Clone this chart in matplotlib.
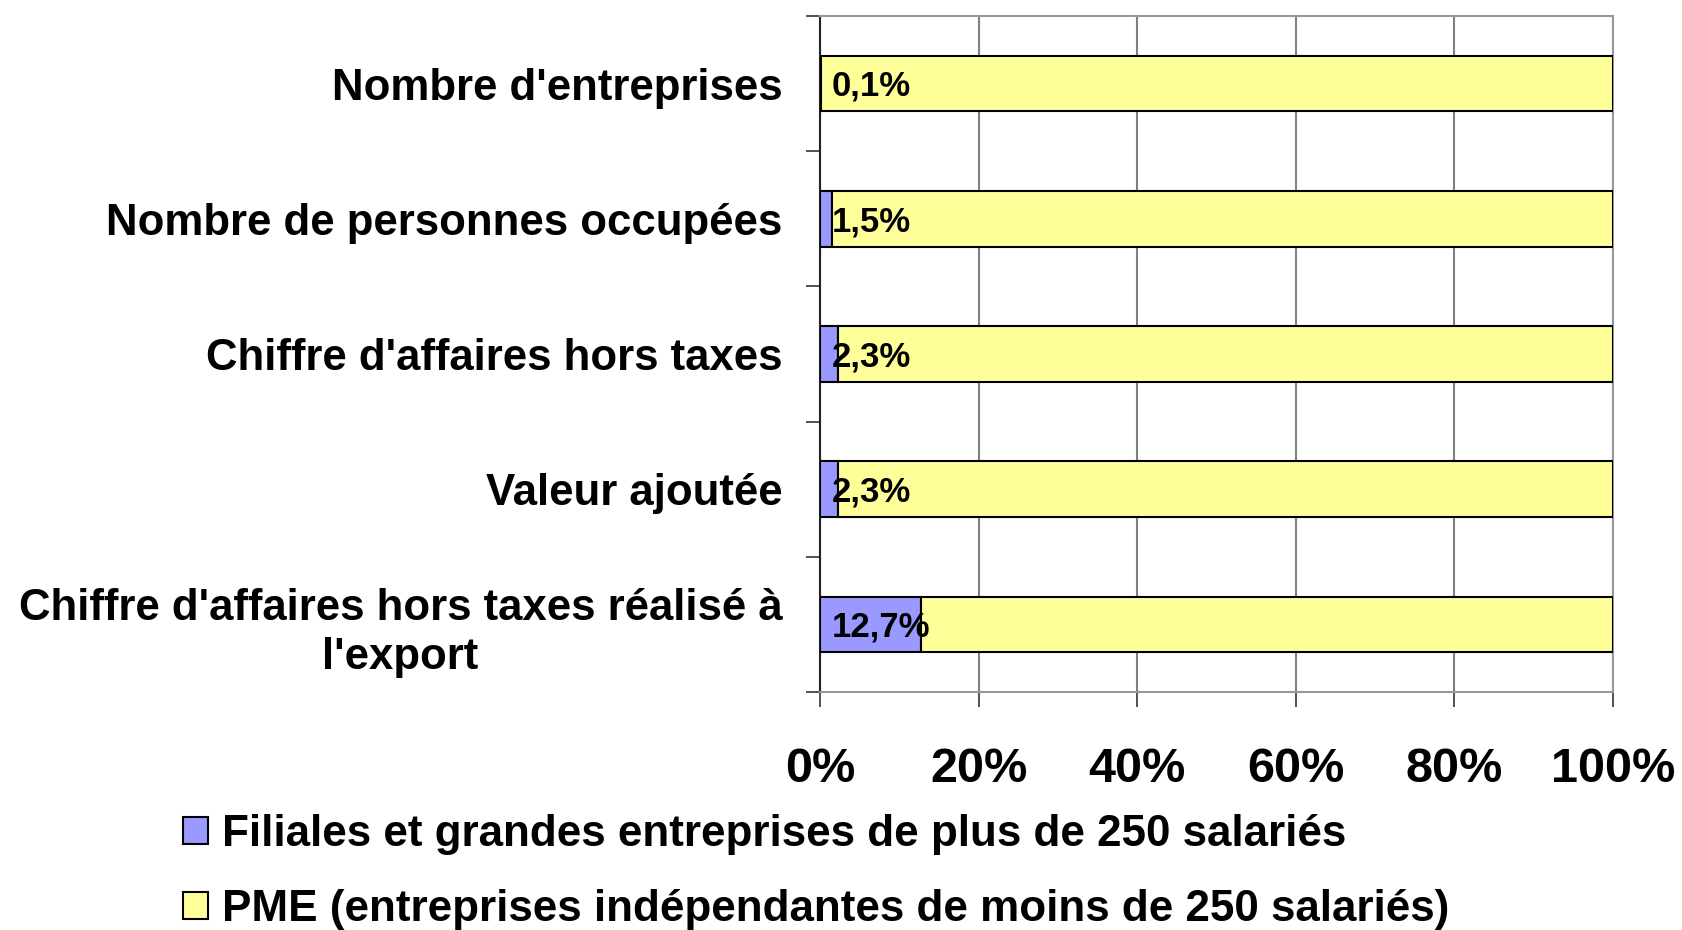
import matplotlib.pyplot as plt
import numpy as np

categories = ["Nombre d'entreprises",
              "Nombre de personnes occupées",
              "Chiffre d'affaires hors taxes",
              "Valeur ajoutée",
              "Chiffre d'affaires hors taxes réalisé à\nl'export"]
filiales = [0.1, 1.5, 2.3, 2.3, 12.7]
pme = [99.9, 98.5, 97.7, 97.7, 87.3]
bar_labels = ["0,1%", "1,5%", "2,3%", "2,3%", "12,7%"]
x_ticks = [0, 20, 40, 60, 80, 100]
x_labels = ["0%", "20%", "40%", "60%", "80%", "100%"]
series_names = ["Filiales et grandes entreprises de plus de 250 salariés",
                "PME (entreprises indépendantes de moins de 250 salariés)"]

plt.rcParams['font.family'] = ['Liberation Sans', 'DejaVu Sans']
plt.rcParams['font.weight'] = 'bold'

fig = plt.figure(figsize=(16.83, 9.30), dpi=100)
ax = fig.add_axes([820 / 1683, 1 - 692 / 930, (1613 - 820) / 1683, (692 - 16) / 930])

y = np.arange(len(categories))
h = 0.41
ax.barh(y, filiales, height=h, color='#9999FF', edgecolor='black', linewidth=1.5,
        label=series_names[0], zorder=3)
ax.barh(y, pme, left=filiales, height=h, color='#FFFF99', edgecolor='black', linewidth=1.5,
        label=series_names[1], zorder=3)

for yi, lab in zip(y, bar_labels):
    ax.annotate(lab, xy=(0, yi), xytext=(8.5, -2), textcoords='offset points',
                ha='left', va='center', fontsize=25, fontweight='bold', zorder=5)

ax.set_xlim(0, 100)
ax.set_ylim(len(categories) - 0.5, -0.5)

ax.set_xticks(x_ticks)
ax.set_xticklabels(x_labels, fontsize=35, fontweight='bold')
ax.tick_params(axis='x', length=10.8, width=1.2, color='#333333', pad=29)

ax.set_yticks(y)
ax.set_yticklabels(categories, fontsize=31.5, fontweight='bold')
for t in ax.get_yticklabels():
    t.set_multialignment('center')
    t.set_linespacing(1.25)
ax.tick_params(axis='y', which='major', length=0, pad=27)
ax.set_yticks(np.arange(-0.5, len(categories)), minor=True)
ax.tick_params(axis='y', which='minor', length=10, width=1.2, color='#333333')

ax.grid(axis='x', color='#808080', linewidth=1.5, zorder=0)
ax.set_axisbelow(True)
for s in ['top', 'right', 'bottom']:
    ax.spines[s].set_color('#999999')
    ax.spines[s].set_linewidth(1.5)
ax.spines['left'].set_color('#222222')
ax.spines['left'].set_linewidth(1.5)

fig.legend(loc='center left', bbox_to_anchor=(183 / 1683, 1 - 872 / 930),
           frameon=False, prop={'weight': 'bold', 'size': 31.7},
           handlelength=0.56, handleheight=0.56, handletextpad=0.33,
           labelspacing=0.78, borderpad=0, borderaxespad=0)

fig.savefig('out.png', dpi=100)
